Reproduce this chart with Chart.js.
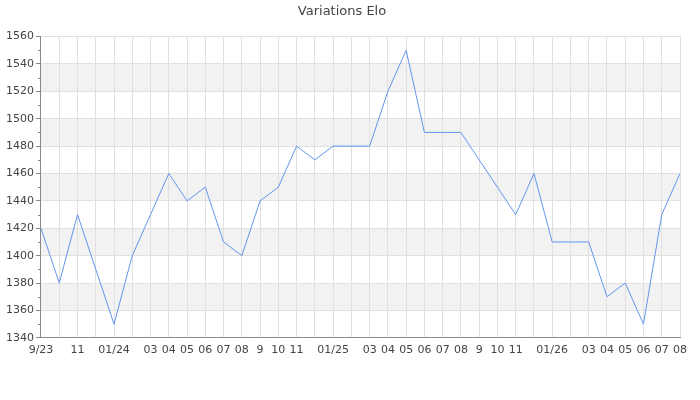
<!DOCTYPE html>
<html>
<head>
<meta charset="utf-8">
<script src="https://cdn.jsdelivr.net/npm/chart.js@4.4.1/dist/chart.umd.min.js"></script>
<style>
html,body{margin:0;padding:0;background:#fff;}
#wrap{width:700px;height:400px;}
</style>
</head>
<body>
<div id="wrap"><canvas id="c" width="700" height="400"></canvas></div>
<script>
const months = ["2023-09","2023-10","2023-11","2023-12","2024-01","2024-02","2024-03","2024-04","2024-05","2024-06","2024-07","2024-08","2024-09","2024-10","2024-11","2024-12","2025-01","2025-02","2025-03","2025-04","2025-05","2025-06","2025-07","2025-08","2025-09","2025-10","2025-11","2025-12","2026-01","2026-02","2026-03","2026-04","2026-05","2026-06","2026-07","2026-08"];
const tickLabels = ["9/23","","11","","01/24","","03","04","05","06","07","08","9","10","11","","01/25","","03","04","05","06","07","08","9","10","11","","01/26","","03","04","05","06","07","08"];
const elo = [1420,1380,1430,1390,1350,1400,1430,1460,1440,1450,1410,1400,1440,1450,1480,1470,1480,1480,1480,1520,1550,1490,1490,1490,1470,1450,1430,1460,1410,1410,1410,1370,1380,1350,1430,1460];
const yMin = 1340, yMax = 1560, yStep = 20, yMinor = 10;

const bandsPlugin = {
  id: 'bands',
  beforeDraw(chart) {
    const {ctx, chartArea, scales} = chart;
    const y = scales.y;
    ctx.save();
    ctx.fillStyle = '#f2f2f2';
    for (let v = yMin; v < yMax; v += yStep) {
      if (((v - yMin) / yStep) % 2 === 1) {
        const top = y.getPixelForValue(v + yStep);
        const bot = y.getPixelForValue(v);
        ctx.fillRect(chartArea.left, top, chartArea.right - chartArea.left, bot - top);
      }
    }
    ctx.restore();
  },
  afterDraw(chart) {
    const {ctx, chartArea, scales} = chart;
    const y = scales.y;
    ctx.save();
    ctx.strokeStyle = '#888';
    ctx.lineWidth = 1;
    for (let v = yMin + yMinor; v < yMax; v += yStep) {
      const p = Math.round(y.getPixelForValue(v)) + 0.5;
      ctx.beginPath();
      ctx.moveTo(chartArea.left - 3, p);
      ctx.lineTo(chartArea.left, p);
      ctx.stroke();
    }
    ctx.restore();
  }
};

new Chart(document.getElementById('c'), {
  type: 'line',
  data: {
    labels: months,
    datasets: [{
      data: elo,
      borderColor: '#6495ed',
      borderWidth: 1,
      pointRadius: 0,
      pointHoverRadius: 0,
      tension: 0,
      fill: false
    }]
  },
  options: {
    responsive: false,
    animation: false,
    devicePixelRatio: 1,
    layout: { padding: { left: 4, right: 20, top: 0, bottom: 37 } },
    plugins: {
      legend: { display: false },
      tooltip: { enabled: false },
      title: {
        display: true,
        text: 'Variations Elo',
        color: '#444',
        font: { family: 'DejaVu Sans', size: 13, weight: 'normal' },
        padding: { top: 4, bottom: 17 }
      }
    },
    scales: {
      x: {
        grid: { color: '#e0e0e0', drawTicks: false },
        border: { color: '#888' },
        ticks: {
          autoSkip: false,
          maxRotation: 0,
          padding: 6,
          color: '#444',
          font: { family: 'DejaVu Sans', size: 11 },
          callback: (v, i) => tickLabels[i]
        }
      },
      y: {
        min: yMin,
        max: yMax,
        grid: { color: '#e0e0e0', tickColor: '#888', tickLength: 5 },
        border: { color: '#888' },
        ticks: {
          stepSize: yStep,
          padding: 2,
          color: '#444',
          font: { family: 'DejaVu Sans', size: 11 },
          callback: (v) => String(v)
        }
      }
    }
  },
  plugins: [bandsPlugin]
});
</script>
</body>
</html>
